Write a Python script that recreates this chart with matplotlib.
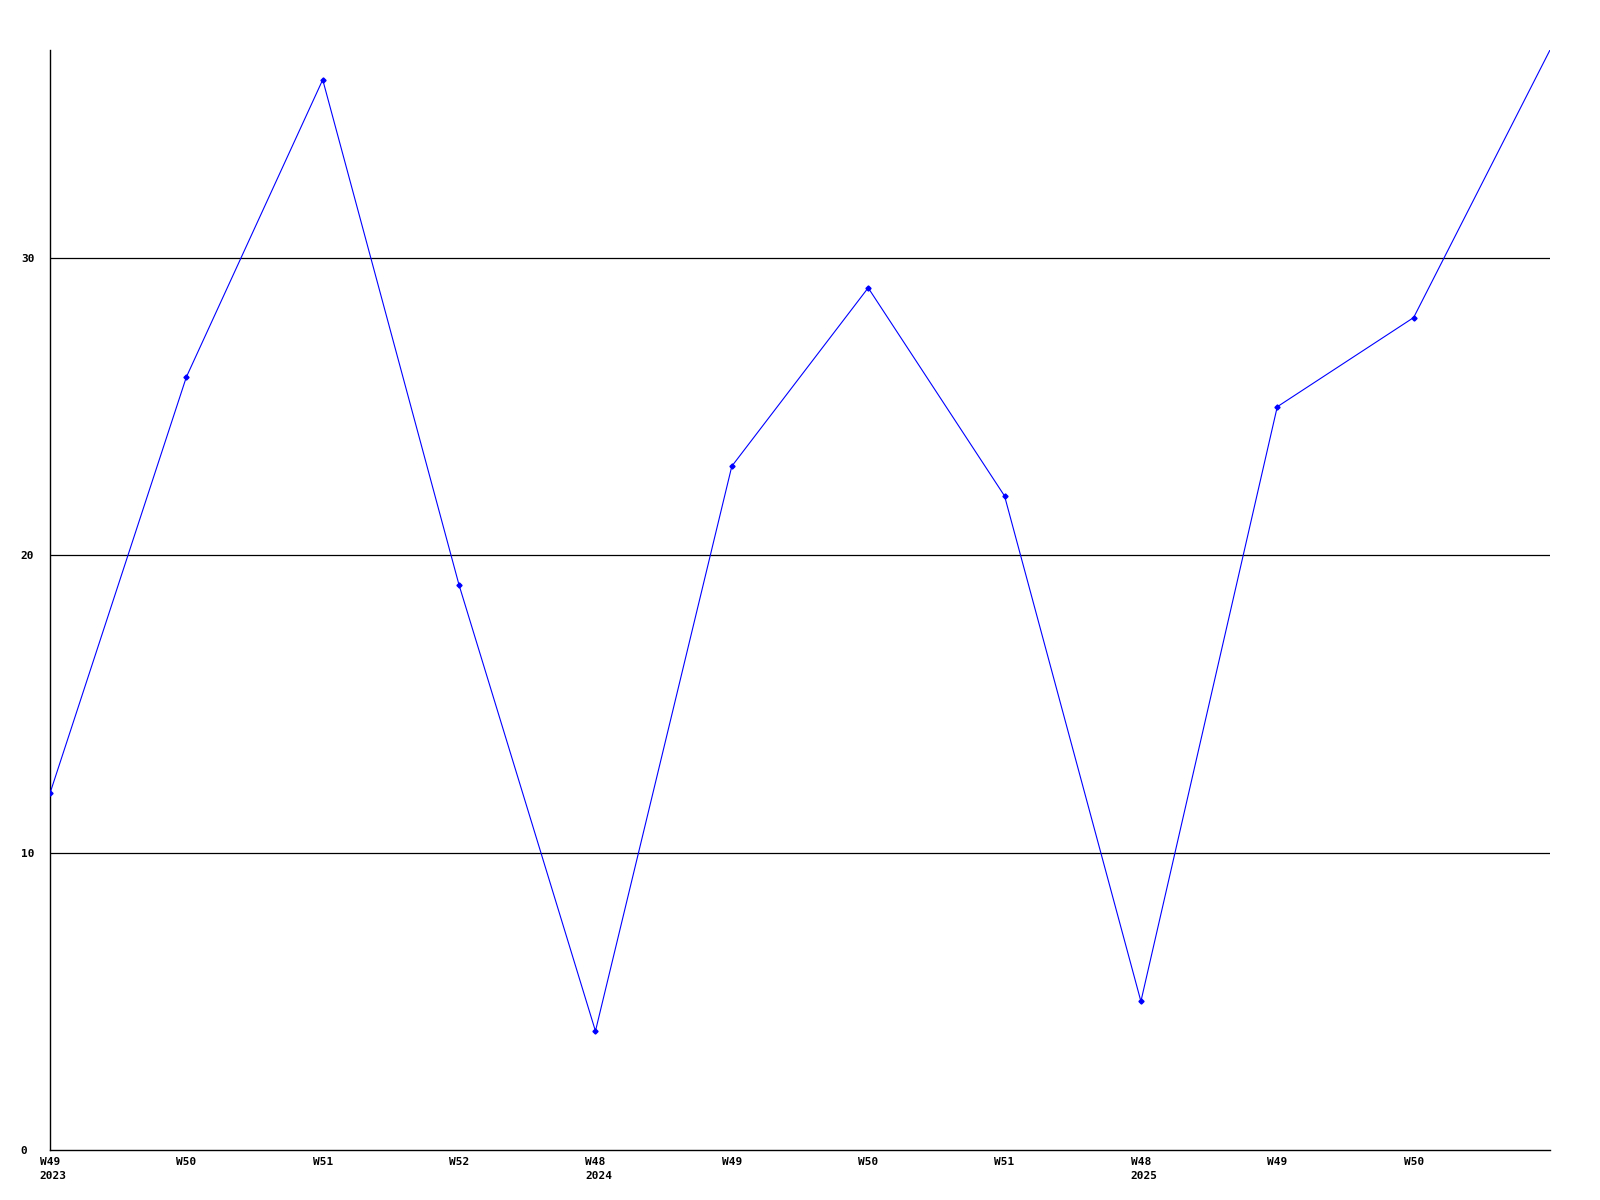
import matplotlib
matplotlib.use("Agg")
import matplotlib.pyplot as plt
from matplotlib.transforms import blended_transform_factory

weeks = ["W49", "W50", "W51", "W52", "W48", "W49", "W50", "W51", "W48", "W49", "W50", ""]
years = ["2023", "", "", "", "2024", "", "", "", "2025", "", "", ""]
values = [12, 26, 36, 19, 4, 23, 29, 22, 5, 25, 28, 37]
yticks = [0, 10, 20, 30]

fig = plt.figure(figsize=(16, 12), dpi=100)
ax = fig.add_axes([50/1600, 50/1200, 1500/1600, 1100/1200])

x = list(range(len(values)))
ax.set_xlim(0, len(values) - 1)
ax.set_ylim(0, 37)

for yv in yticks[1:]:
    ax.axhline(yv, color="black", linewidth=0.9, zorder=1)

ax.plot(x, values, color="#0000ff", linewidth=0.8, zorder=3)
ax.plot(x[:-1], values[:-1], linestyle="none", marker="D", markersize=2.6,
        color="#0000ff", zorder=4)

for s in ["top", "right"]:
    ax.spines[s].set_visible(False)
for s in ["left", "bottom"]:
    ax.spines[s].set_linewidth(1.0)
    ax.spines[s].set_color("black")

font = dict(family="DejaVu Sans Mono", weight="bold", size=8)
ax.set_yticks(yticks)
ax.set_yticklabels([str(v) for v in yticks], ha="left", **font)
ax.tick_params(axis="y", length=0, pad=21)

ax.set_xticks(x)
ax.set_xticklabels([""] * len(x))
ax.tick_params(axis="x", length=0)

trans = blended_transform_factory(ax.transData, ax.transAxes)
for i, (w, yr) in enumerate(zip(weeks, years)):
    if w:
        ax.text(i, -0.006, w, transform=trans, ha="center", va="top", **font)
    if yr:
        ax.text(i - 0.075, -0.019, yr, transform=trans, ha="left", va="top", **font)

fig.savefig("out.png", dpi=100)
